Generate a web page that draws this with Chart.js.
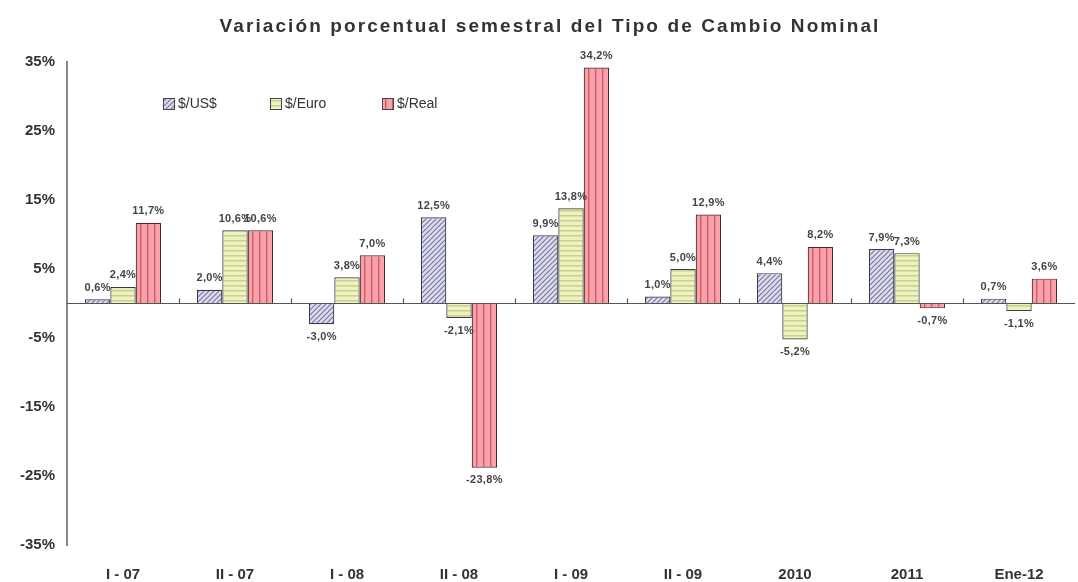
<!DOCTYPE html>
<html>
<head>
<meta charset="utf-8">
<script src="https://cdn.jsdelivr.net/npm/chart.js@4.4.0/dist/chart.umd.min.js"></script>
<style>
  html, body { margin: 0; padding: 0; background: #fff; }
  #wrap { width: 1078px; height: 582px; }
</style>
</head>
<body>
<div id="wrap"><canvas id="myChart" width="1078" height="582"></canvas></div>
<script>
const chartTitle = 'Variación porcentual semestral del Tipo de Cambio Nominal';
const categories = ['I - 07', 'II - 07', 'I - 08', 'II - 08', 'I - 09', 'II - 09', '2010', '2011', 'Ene-12'];
const usdValues = [0.6, 2.0, -3.0, 12.5, 9.9, 1.0, 4.4, 7.9, 0.7];
const euroValues = [2.4, 10.6, 3.8, -2.1, 13.8, 5.0, -5.2, 7.3, -1.1];
const realValues = [11.7, 10.6, 7.0, -23.8, 34.2, 12.9, 8.2, -0.7, 3.6];
const yTicks = [-35, -25, -15, -5, 5, 15, 25, 35];

const FONT = '"Liberation Sans", Arial, sans-serif';

// hatch patterns
function makePattern(kind) {
    const c = document.createElement('canvas');
    const g = c.getContext('2d');
    if (kind === 'diag') {
        c.width = 5; c.height = 5;
        g.fillStyle = '#dcdcee';
        g.fillRect(0, 0, 5, 5);
        g.strokeStyle = '#74749e';
        g.lineWidth = 1.1;
        g.beginPath();
        g.moveTo(0, 5); g.lineTo(5, 0);
        g.moveTo(-2.5, 2.5); g.lineTo(2.5, -2.5);
        g.moveTo(2.5, 7.5); g.lineTo(7.5, 2.5);
        g.stroke();
    } else if (kind === 'horiz') {
        c.width = 6; c.height = 5;
        g.fillStyle = '#eef2c2';
        g.fillRect(0, 0, 6, 5);
        g.fillStyle = '#c8d08a';
        g.fillRect(0, 0, 6, 1.5);
    } else {
        c.width = 7; c.height = 6;
        g.fillStyle = '#f7a2aa';
        g.fillRect(0, 0, 7, 6);
        g.fillStyle = '#d85a66';
        g.fillRect(0, 0, 1.4, 6);
    }
    return g.createPattern(c, 'repeat');
}

const usdFill = makePattern('diag');
const euroFill = makePattern('horiz');
const realFill = makePattern('vert');

const fmt = v => v.toFixed(1).replace('.', ',') + '%';

const extras = {
    id: 'extras',
    afterDatasetsDraw(chart) {
        const ctx = chart.ctx;
        const x = chart.scales.x;
        const y = chart.scales.y;
        const y0 = y.getPixelForValue(0);
        ctx.save();

        // title, letter spaced like the original
        ctx.font = 'bold 19px ' + FONT;
        ctx.letterSpacing = '2.1px';
        ctx.fillStyle = '#333';
        ctx.textAlign = 'center';
        ctx.textBaseline = 'middle';
        ctx.fillText(chartTitle, 550, 27);
        ctx.letterSpacing = '0px';

        // zero line with category ticks
        ctx.strokeStyle = '#555';
        ctx.lineWidth = 1.2;
        ctx.beginPath();
        ctx.moveTo(chart.chartArea.left, y0);
        ctx.lineTo(chart.chartArea.right, y0);
        for (let i = 1; i < categories.length; i++) {
            const px = Math.round((x.getPixelForValue(i - 1) + x.getPixelForValue(i)) / 2) + 0.5;
            ctx.moveTo(px, y0);
            ctx.lineTo(px, y0 - 5);
        }
        ctx.stroke();

        // value labels
        ctx.font = 'bold 11px ' + FONT;
        ctx.letterSpacing = '0.3px';
        ctx.fillStyle = '#444';
        chart.data.datasets.forEach((ds, di) => {
            const meta = chart.getDatasetMeta(di);
            meta.data.forEach((bar, i) => {
                const v = ds.data[i];
                if (v >= 0) {
                    ctx.textBaseline = 'bottom';
                    ctx.fillText(fmt(v), bar.x, bar.y - 6);
                } else {
                    ctx.textBaseline = 'top';
                    ctx.fillText(fmt(v), bar.x, bar.y + 7);
                }
            });
        });
        ctx.letterSpacing = '0px';

        // legend
        const items = [['$/US$', usdFill], ['$/Euro', euroFill], ['$/Real', realFill]];
        const lx = [163, 270, 382];
        ctx.font = '14px ' + FONT;
        ctx.textAlign = 'left';
        ctx.textBaseline = 'middle';
        items.forEach((it, k) => {
            ctx.fillStyle = it[1];
            ctx.fillRect(lx[k], 98, 12, 12);
            ctx.strokeStyle = '#444';
            ctx.lineWidth = 1;
            ctx.strokeRect(lx[k] + 0.5, 98.5, 11, 11);
            ctx.fillStyle = '#333';
            ctx.fillText(it[0], lx[k] + 15, 104);
        });
        ctx.restore();
    }
};

const ctx = document.getElementById('myChart').getContext('2d');

new Chart(ctx, {
    type: 'bar',
    data: {
        labels: categories,
        datasets: [
            { label: '$/US$', data: usdValues, backgroundColor: usdFill, borderColor: '#3a3a4a', borderWidth: 1.2 },
            { label: '$/Euro', data: euroValues, backgroundColor: euroFill, borderColor: '#3a3a3a', borderWidth: 1.2 },
            { label: '$/Real', data: realValues, backgroundColor: realFill, borderColor: '#4a2a2a', borderWidth: 1.2 },
        ],
    },
    options: {
        responsive: false,
        animation: false,
        devicePixelRatio: 1,
        layout: { padding: { top: 62, right: 3, bottom: 0, left: 4 } },
        datasets: { bar: { categoryPercentage: 0.68, barPercentage: 1 } },
        plugins: {
            legend: { display: false },
            tooltip: { enabled: false },
            title: { display: false },
        },
        scales: {
            x: {
                afterFit(axis) { axis.height = 37; },
                grid: { display: false, drawTicks: false },
                border: { display: false },
                ticks: {
                    color: '#333',
                    padding: 21,
                    font: { family: FONT, size: 15, weight: 'bold' },
                },
            },
            y: {
                min: -35,
                max: 35,
                afterBuildTicks(axis) {
                    axis.ticks = yTicks.map(v => ({ value: v }));
                },
                afterFit(axis) { axis.width = 63; },
                grid: { display: false, drawTicks: true, tickLength: 6, tickColor: '#777' },
                border: { display: true, color: '#888', width: 2 },
                ticks: {
                    color: '#333',
                    padding: 6,
                    font: { family: FONT, size: 15, weight: 'bold' },
                    callback: v => v + '%',
                },
            },
        },
    },
    plugins: [extras],
});
</script>
</body>
</html>
